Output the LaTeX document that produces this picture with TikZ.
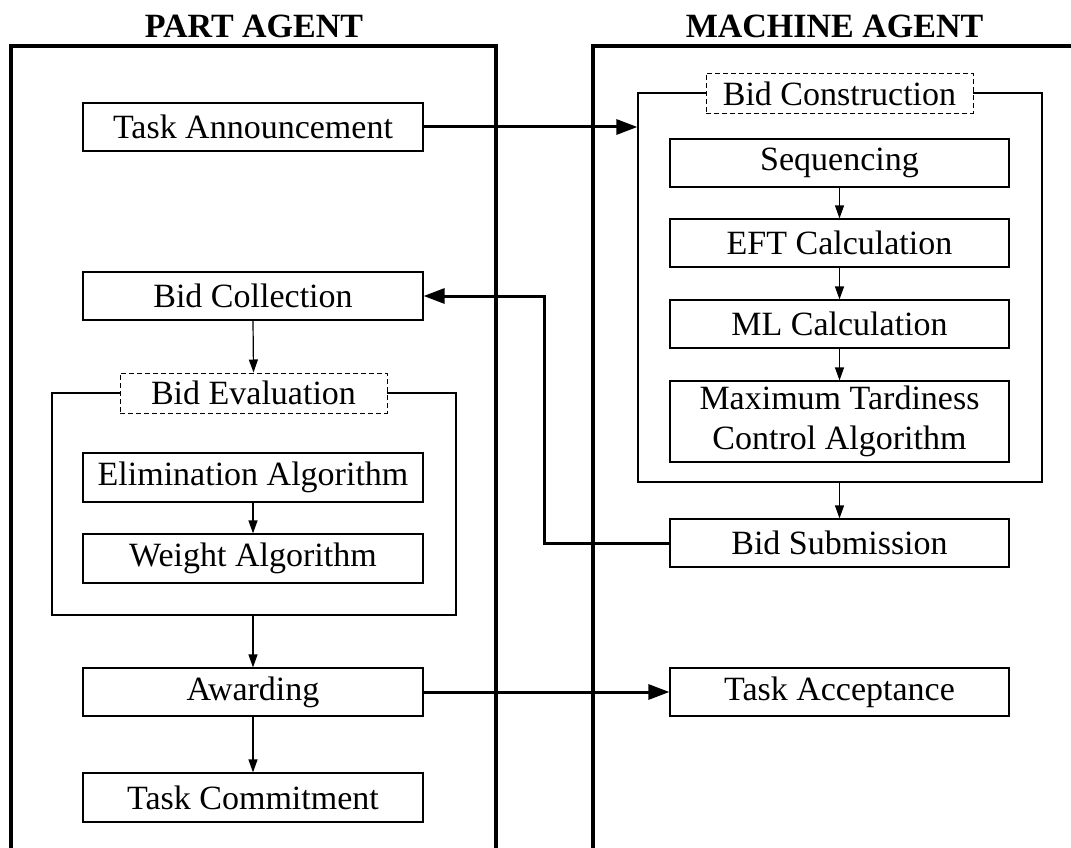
\documentclass[tikz,border=0pt]{standalone}
\usepackage{fontspec}
\setmainfont{Liberation Serif}
\usetikzlibrary{arrows.meta}
\begin{document}
\begin{tikzpicture}[x=1pt,y=-1pt,
  box/.style={draw, line width=1.2pt, fill=white, inner sep=0pt, align=center,
    minimum width=340pt, minimum height=48pt, font=\fontsize{34}{40}\selectfont},
  dbox/.style={box, line width=1pt, dash pattern=on 5pt off 3pt, minimum width=267pt, minimum height=40pt},
  outerbox/.style={draw, line width=1.2pt, inner sep=0pt},
  title/.style={anchor=base, inner sep=0pt, font=\fontsize{34}{40}\selectfont\bfseries},
  agent/.style={draw, line width=3.5pt},
  heavy/.style={draw, line width=3pt, -{Triangle[length=21pt,width=15pt]}},
  thin/.style={draw, line width=1.2pt, -{Triangle[length=13pt,width=9pt]}}]
\useasboundingbox (0,0) rectangle (1071,848);

% agent frames
\draw[agent] (11,852) |- (496,46) -- (496,852);
\draw[agent] (593,852) |- (1075,46);
\node[title] (pt) at (254,38) {PART AGENT};
\node[title] (mt) at (834.5,38) {MACHINE AGENT};

% part agent
\node[box] (ta) at (253,127) {Task Announcement};
\node[box] (bc) at (253,296) {Bid Collection};
\node[outerbox, minimum width=404pt, minimum height=222pt] (beo) at (254,504) {};
\node[dbox] (bel) at (253.5,393) {Bid Evaluation};
\node[box, minimum height=49pt] (ea) at (253,477.5) {Elimination Algorithm};
\node[box, minimum height=49pt] (wa) at (253,558.5) {Weight Algorithm};
\node[box] (aw) at (253,692) {Awarding};
\node[box, minimum height=49pt] (tc) at (253,797.5) {Task Commitment};

% machine agent
\node[outerbox, minimum width=404pt, minimum height=389pt] (bco) at (840,287.5) {};
\node[dbox] (bcl) at (839.5,93.5) {Bid Construction};
\node[box, minimum width=339pt] (seq) at (839.5,163) {Sequencing};
\node[box, minimum width=339pt] (eft) at (839.5,243) {EFT Calculation};
\node[box, minimum width=339pt] (ml) at (839.5,324) {ML Calculation};
\node[box, minimum width=339pt, minimum height=81pt] (mtc) at (839.5,421.5) {Maximum Tardiness\\Control Algorithm};
\node[box, minimum width=339pt] (bs) at (839.5,543) {Bid Submission};
\node[box, minimum width=339pt] (tacc) at (839.5,692) {Task Acceptance};

% thin arrows
\draw[thin] (seq) -- (eft);
\draw[thin] (eft) -- (ml);
\draw[thin] (ml) -- (mtc);
\draw[thin] (bco.south -| bs.north) -- (bs.north);
\draw[thin] (bc.south) -- (bel.north);
\draw[thin] (ea) -- (wa);
\draw[thin] (beo.south -| aw.north) -- (aw.north);
\draw[thin] (aw) -- (tc);

% heavy arrows
\coordinate (bend) at (544,0);
\draw[heavy] (ta.east) -- (ta.east -| bco.west);
\draw[heavy] (bs.west) -| (bend |- bc.east) -- (bc.east);
\draw[heavy] (aw.east) -- (tacc.west);
\end{tikzpicture}
\end{document}
